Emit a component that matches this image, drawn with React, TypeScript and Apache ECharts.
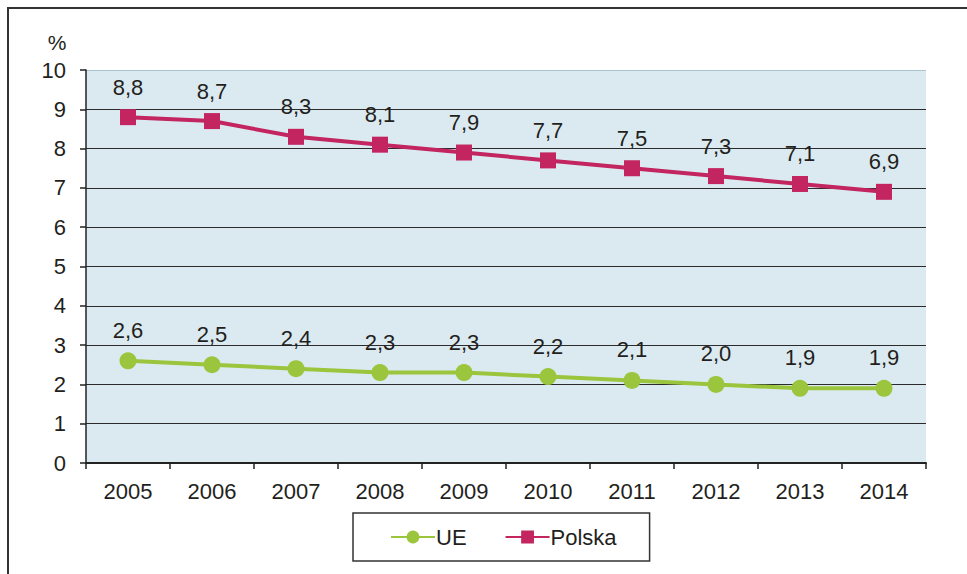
import React, { useEffect, useRef } from "react";
import * as echarts from "echarts";

const years = ["2005", "2006", "2007", "2008", "2009", "2010", "2011", "2012", "2013", "2014"];
const ueValues = [2.6, 2.5, 2.4, 2.3, 2.3, 2.2, 2.1, 2.0, 1.9, 1.9];
const polskaValues = [8.8, 8.7, 8.3, 8.1, 7.9, 7.7, 7.5, 7.3, 7.1, 6.9];

const FONT = "'Liberation Sans', Arial, sans-serif";
const fmt = (v: number) => v.toFixed(1).replace(".", ",");

export default function App() {
  const ref = useRef<HTMLDivElement>(null);
  useEffect(() => {
    if (!ref.current) return;
    const chart = echarts.init(ref.current, null, { renderer: "svg" });
    const splitColors = Array.from({ length: 11 }, (_, i) => (i === 10 ? "#a9c3cf" : "#2b2b2b"));
    const labelStyle = {
      show: true,
      position: "top",
      distance: 11,
      fontSize: 22,
      color: "#231f20",
      fontFamily: FONT,
      formatter: (p: any) => fmt(p.value),
    };
    chart.setOption({
      animation: false,
      textStyle: { fontFamily: FONT },
      grid: {
        left: 86,
        top: 70,
        width: 840,
        height: 393,
        show: true,
        backgroundColor: "#dbeaf1",
        borderWidth: 0,
      },
      graphic: [
        {
          type: "polyline",
          shape: { points: [[8, 600], [8, 8], [1000, 8]] },
          style: { stroke: "#333", lineWidth: 2, fill: "none" },
          silent: true,
        },
        {
          type: "text",
          x: 57,
          y: 42,
          style: { text: "%", font: `21px ${FONT}`, fill: "#231f20", textAlign: "center", textVerticalAlign: "middle" },
        },
      ],
      legend: {
        left: 353,
        top: 513,
        padding: [13, 33, 13, 37],
        borderColor: "#333",
        borderWidth: 1.5,
        itemWidth: 44,
        itemHeight: 16,
        itemGap: 38,
        textStyle: { fontSize: 22, color: "#231f20", fontFamily: FONT, padding: [0, 0, 0, -4] },
        data: ["UE", "Polska"],
      },
      xAxis: {
        type: "category",
        data: years,
        boundaryGap: true,
        axisLine: { lineStyle: { color: "#222", width: 2 } },
        axisTick: { show: true, length: 6, lineStyle: { color: "#222", width: 1.5 } },
        axisLabel: { fontSize: 22, color: "#231f20", margin: 17, fontFamily: FONT },
      },
      yAxis: {
        type: "value",
        min: 0,
        max: 10,
        interval: 1,
        axisLine: { show: true, lineStyle: { color: "#222", width: 1.5 } },
        axisTick: { show: true, length: 6, lineStyle: { color: "#222", width: 1.5 } },
        axisLabel: { fontSize: 22, color: "#231f20", margin: 20, fontFamily: FONT },
        splitLine: { show: true, lineStyle: { color: splitColors, width: 1.2 } },
      },
      series: [
        {
          name: "UE",
          type: "line",
          data: ueValues,
          symbol: "circle",
          symbolSize: 17,
          color: "#9bc53d",
          lineStyle: { width: 4, color: "#9bc53d" },
          itemStyle: { color: "#9bc53d" },
          label: labelStyle,
        },
        {
          name: "Polska",
          type: "line",
          data: polskaValues,
          symbol: "rect",
          symbolSize: 16,
          color: "#c2255f",
          lineStyle: { width: 4, color: "#c2255f" },
          itemStyle: { color: "#c2255f" },
          label: labelStyle,
        },
      ],
    });
    return () => chart.dispose();
  }, []);
  return (
    <div
      ref={ref}
      style={{ position: "absolute", left: 0, top: 0, width: 967, height: 574, background: "#fff" }}
    />
  );
}
